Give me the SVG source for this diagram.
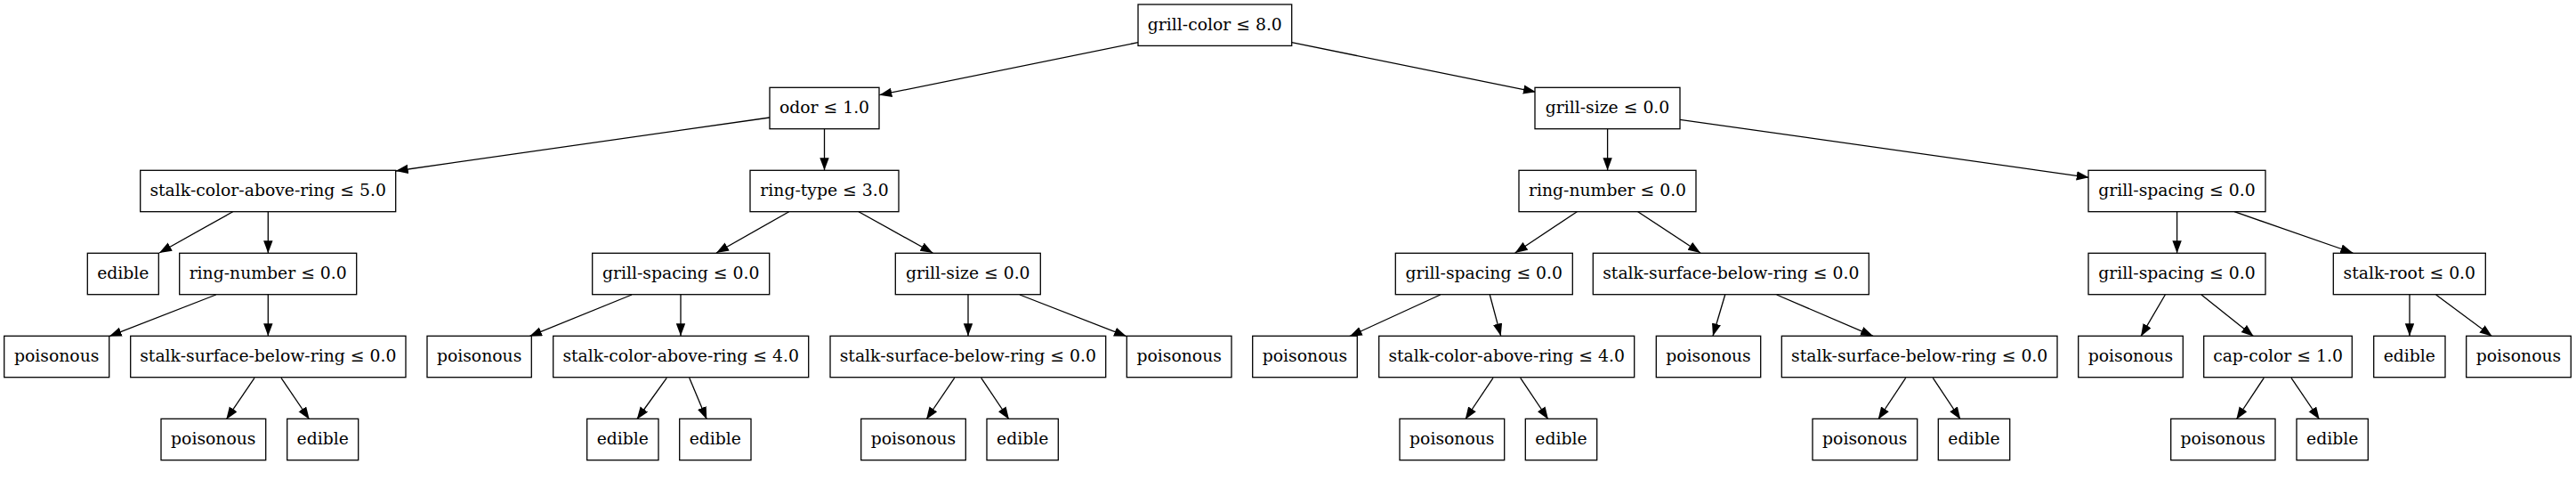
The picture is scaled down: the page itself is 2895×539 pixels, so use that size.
<svg xmlns="http://www.w3.org/2000/svg" width="2895" height="539" viewBox="0 0 2895 539">
<style>
rect.n{fill:#fff;stroke:#000;stroke-width:1.3}
text{font-family:"DejaVu Serif","Liberation Serif",serif;font-size:18.8px;text-anchor:middle;fill:#000}
#edges line{stroke:#000;stroke-width:1.3;marker-end:url(#arr)}
</style>
<defs>
<marker id="arr" markerUnits="userSpaceOnUse" markerWidth="15" markerHeight="11" refX="14" refY="5.2" orient="auto"><path d="M0,0 L14,5.2 L0,10.4 z" fill="#000"/></marker>
</defs>
<rect width="2895" height="539" fill="#fff"/>
<g id="edges">
<line x1="1279" y1="47.7" x2="988.3" y2="106.7"/>
<line x1="1451.7" y1="47.7" x2="1726" y2="103.3"/>
<line x1="865" y1="132" x2="444.7" y2="192"/>
<line x1="926.5" y1="144.3" x2="926.5" y2="191.3"/>
<line x1="261.7" y1="237.7" x2="179" y2="284"/>
<line x1="301.3" y1="237.7" x2="301.3" y2="284.3"/>
<line x1="242.7" y1="331" x2="122.7" y2="377.7"/>
<line x1="301.3" y1="331" x2="301.3" y2="377.3"/>
<line x1="286" y1="424.3" x2="254.3" y2="471"/>
<line x1="316" y1="424.3" x2="347.7" y2="471"/>
<line x1="886.7" y1="237.7" x2="805" y2="284"/>
<line x1="965" y1="237.7" x2="1048.3" y2="284"/>
<line x1="710" y1="331" x2="595" y2="377.7"/>
<line x1="765" y1="331" x2="765" y2="377.3"/>
<line x1="749.3" y1="424.3" x2="715.7" y2="471"/>
<line x1="774.7" y1="424.3" x2="794.3" y2="471"/>
<line x1="1088" y1="331" x2="1088" y2="377.3"/>
<line x1="1146" y1="331" x2="1266" y2="377.7"/>
<line x1="1072.7" y1="424.3" x2="1041" y2="471"/>
<line x1="1102.7" y1="424.3" x2="1134" y2="471"/>
<line x1="1806.6" y1="144.3" x2="1806.6" y2="191.3"/>
<line x1="1888" y1="134.3" x2="2347.7" y2="199.3"/>
<line x1="1772.3" y1="237.7" x2="1702.7" y2="284"/>
<line x1="1840.7" y1="237.7" x2="1911" y2="284"/>
<line x1="1618.7" y1="331" x2="1516.7" y2="377.7"/>
<line x1="1674.3" y1="331" x2="1686.7" y2="377.3"/>
<line x1="1678" y1="424.3" x2="1646.7" y2="471"/>
<line x1="1708.7" y1="424.3" x2="1740" y2="471"/>
<line x1="1938.7" y1="331" x2="1925" y2="377.3"/>
<line x1="1996.7" y1="331" x2="2105" y2="377.3"/>
<line x1="2141.7" y1="424.3" x2="2110.7" y2="471"/>
<line x1="2172.3" y1="424.3" x2="2203.3" y2="471"/>
<line x1="2446.6" y1="237.7" x2="2446.6" y2="284.3"/>
<line x1="2511" y1="237.7" x2="2644.3" y2="284"/>
<line x1="2433.3" y1="331" x2="2406" y2="377.7"/>
<line x1="2474" y1="331" x2="2532.7" y2="377.7"/>
<line x1="2544.3" y1="424.3" x2="2513.3" y2="471"/>
<line x1="2575" y1="424.3" x2="2606.7" y2="471"/>
<line x1="2708" y1="331" x2="2708" y2="377.3"/>
<line x1="2737.7" y1="331" x2="2800.7" y2="377.7"/>
</g>
<g id="n0"><rect class="n" x="1279" y="5" width="172.7" height="46.4"/><text x="1365.3" y="33.5">grill-color ≤ 8.0</text></g>
<g id="n1"><rect class="n" x="865" y="98.3" width="123" height="46.4"/><text x="926.5" y="126.6">odor ≤ 1.0</text></g>
<g id="n2"><rect class="n" x="1725" y="98.3" width="163" height="46.4"/><text x="1806.5" y="126.6">grill-size ≤ 0.0</text></g>
<g id="n3"><rect class="n" x="157.7" y="191.3" width="287" height="46.4"/><text x="301.2" y="219.6">stalk-color-above-ring ≤ 5.0</text></g>
<g id="n4"><rect class="n" x="843" y="191.3" width="167" height="46.4"/><text x="926.5" y="219.6">ring-type ≤ 3.0</text></g>
<g id="n5"><rect class="n" x="1707" y="191.3" width="199" height="46.4"/><text x="1806.5" y="219.6">ring-number ≤ 0.0</text></g>
<g id="n6"><rect class="n" x="2347" y="191.3" width="199" height="46.4"/><text x="2446.5" y="219.6">grill-spacing ≤ 0.0</text></g>
<g id="n7"><rect class="n" x="98.3" y="284.3" width="80" height="46.4"/><text x="138.3" y="312.6">edible</text></g>
<g id="n8"><rect class="n" x="201.7" y="284.3" width="199" height="46.4"/><text x="301.2" y="312.6">ring-number ≤ 0.0</text></g>
<g id="n9"><rect class="n" x="665.7" y="284.3" width="199" height="46.4"/><text x="765.2" y="312.6">grill-spacing ≤ 0.0</text></g>
<g id="n10"><rect class="n" x="1006.3" y="284.3" width="163" height="46.4"/><text x="1087.8" y="312.6">grill-size ≤ 0.0</text></g>
<g id="n11"><rect class="n" x="1568.3" y="284.3" width="199" height="46.4"/><text x="1667.8" y="312.6">grill-spacing ≤ 0.0</text></g>
<g id="n12"><rect class="n" x="1790.3" y="284.3" width="310" height="46.4"/><text x="1945.3" y="312.6">stalk-surface-below-ring ≤ 0.0</text></g>
<g id="n13"><rect class="n" x="2347" y="284.3" width="199" height="46.4"/><text x="2446.5" y="312.6">grill-spacing ≤ 0.0</text></g>
<g id="n14"><rect class="n" x="2622.3" y="284.3" width="171" height="46.4"/><text x="2707.8" y="312.6">stalk-root ≤ 0.0</text></g>
<g id="n15"><rect class="n" x="4.7" y="377.3" width="118" height="46.4"/><text x="63.7" y="405.6">poisonous</text></g>
<g id="n16"><rect class="n" x="146.7" y="377.3" width="309.3" height="46.4"/><text x="301.3" y="405.6">stalk-surface-below-ring ≤ 0.0</text></g>
<g id="n17"><rect class="n" x="480" y="377.3" width="117.3" height="46.4"/><text x="538.6" y="405.6">poisonous</text></g>
<g id="n18"><rect class="n" x="621.7" y="377.3" width="287" height="46.4"/><text x="765.2" y="405.6">stalk-color-above-ring ≤ 4.0</text></g>
<g id="n19"><rect class="n" x="933" y="377.3" width="309.7" height="46.4"/><text x="1087.8" y="405.6">stalk-surface-below-ring ≤ 0.0</text></g>
<g id="n20"><rect class="n" x="1266.3" y="377.3" width="117.7" height="46.4"/><text x="1325.2" y="405.6">poisonous</text></g>
<g id="n21"><rect class="n" x="1407.7" y="377.3" width="117.6" height="46.4"/><text x="1466.5" y="405.6">poisonous</text></g>
<g id="n22"><rect class="n" x="1549.7" y="377.3" width="287" height="46.4"/><text x="1693.2" y="405.6">stalk-color-above-ring ≤ 4.0</text></g>
<g id="n23"><rect class="n" x="1861.3" y="377.3" width="117.4" height="46.4"/><text x="1920" y="405.6">poisonous</text></g>
<g id="n24"><rect class="n" x="2002.3" y="377.3" width="309.7" height="46.4"/><text x="2157.2" y="405.6">stalk-surface-below-ring ≤ 0.0</text></g>
<g id="n25"><rect class="n" x="2335.7" y="377.3" width="117.6" height="46.4"/><text x="2394.5" y="405.6">poisonous</text></g>
<g id="n26"><rect class="n" x="2476.7" y="377.3" width="166.6" height="46.4"/><text x="2560" y="405.6">cap-color ≤ 1.0</text></g>
<g id="n27"><rect class="n" x="2667.7" y="377.3" width="80.3" height="46.4"/><text x="2707.8" y="405.6">edible</text></g>
<g id="n28"><rect class="n" x="2771.7" y="377.3" width="117.6" height="46.4"/><text x="2830.5" y="405.6">poisonous</text></g>
<g id="n29"><rect class="n" x="181" y="470.3" width="117.7" height="46.4"/><text x="239.8" y="498.6">poisonous</text></g>
<g id="n30"><rect class="n" x="322.7" y="470.3" width="80" height="46.4"/><text x="362.7" y="498.6">edible</text></g>
<g id="n31"><rect class="n" x="659.7" y="470.3" width="80.3" height="46.4"/><text x="699.8" y="498.6">edible</text></g>
<g id="n32"><rect class="n" x="763.7" y="470.3" width="80.3" height="46.4"/><text x="803.8" y="498.6">edible</text></g>
<g id="n33"><rect class="n" x="967.7" y="470.3" width="117.6" height="46.4"/><text x="1026.5" y="498.6">poisonous</text></g>
<g id="n34"><rect class="n" x="1109" y="470.3" width="80.3" height="46.4"/><text x="1149.2" y="498.6">edible</text></g>
<g id="n35"><rect class="n" x="1573" y="470.3" width="117.7" height="46.4"/><text x="1631.8" y="498.6">poisonous</text></g>
<g id="n36"><rect class="n" x="1714.3" y="470.3" width="80.4" height="46.4"/><text x="1754.5" y="498.6">edible</text></g>
<g id="n37"><rect class="n" x="2037" y="470.3" width="117.7" height="46.4"/><text x="2095.8" y="498.6">poisonous</text></g>
<g id="n38"><rect class="n" x="2178.3" y="470.3" width="80.4" height="46.4"/><text x="2218.5" y="498.6">edible</text></g>
<g id="n39"><rect class="n" x="2439.7" y="470.3" width="117.3" height="46.4"/><text x="2498.3" y="498.6">poisonous</text></g>
<g id="n40"><rect class="n" x="2581" y="470.3" width="80.3" height="46.4"/><text x="2621.2" y="498.6">edible</text></g>
</svg>
